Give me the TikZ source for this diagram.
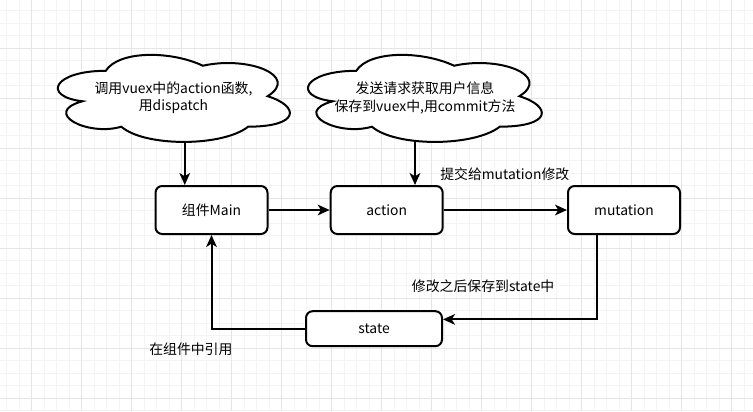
\documentclass[tikz,border=0pt]{standalone}
\usepackage{fontspec}
\setmainfont{Noto Sans CJK SC}
\usetikzlibrary{arrows.meta, positioning}
\tikzset{
    box/.style={draw=black, line width=1.5pt, rounded corners=5pt, fill=white,
        minimum width=84pt, minimum height=36pt, inner sep=0pt},
    flow/.style={line width=1.5pt, -{Stealth[length=9pt, width=8pt, inset=2.5pt]}},
    note/.style={anchor=west, inner sep=0pt},
    cloudline/.style={draw=black, line width=1.5pt, fill=white},
    gridminor/.style={draw={rgb,255:red,244;green,244;blue,244}, line width=0.6pt},
    gridmajor/.style={draw={rgb,255:red,229;green,229;blue,229}, line width=0.75pt}
}

\begin{document}
\begin{tikzpicture}[x=0.75pt, y=-0.75pt, font=\fontsize{10.4}{13}\selectfont]
                        \fill[white] (0, 0) rectangle (753, 411);
                        \useasboundingbox (0, 0) rectangle (753, 411);

                        % grid
                        \foreach \x in {6.7, 19.2, ..., 753} \draw[gridminor] (\x, 0) -- (\x, 411);
                        \foreach \y in {10.8, 23.3, ..., 411} \draw[gridminor] (0, \y) -- (753, \y);
                        \foreach \x in {31.7, 81.7, ..., 753} \draw[gridmajor] (\x, 0) -- (\x, 411);
                        \foreach \y in {48.3, 98.3, ..., 411} \draw[gridmajor] (0, \y) -- (753, \y);

                        % clouds
                        \begin{scope}[shift={(41, 45.4)}, xscale=259, yscale=101.6]
                            \path[cloudline] (0.25, 0.25)
                            .. controls (0.05, 0.25) and (0, 0.5) .. (0.16, 0.55)
                            .. controls (0, 0.66) and (0.18, 0.9) .. (0.31, 0.8)
                            .. controls (0.4, 1) and (0.7, 1) .. (0.8, 0.8)
                            .. controls (1, 0.8) and (1, 0.6) .. (0.875, 0.5)
                            .. controls (1, 0.3) and (0.8, 0.1) .. (0.625, 0.2)
                            .. controls (0.5, 0.05) and (0.3, 0.05) .. (0.25, 0.25) -- cycle;
                            \coordinate (askfoot) at (0.555, 0.95);
                        \end{scope}
                        \begin{scope}[shift={(291, 45.4)}, xscale=261, yscale=101.6]
                            \path[cloudline] (0.25, 0.25)
                            .. controls (0.05, 0.25) and (0, 0.5) .. (0.16, 0.55)
                            .. controls (0, 0.66) and (0.18, 0.9) .. (0.31, 0.8)
                            .. controls (0.4, 1) and (0.7, 1) .. (0.8, 0.8)
                            .. controls (1, 0.8) and (1, 0.6) .. (0.875, 0.5)
                            .. controls (1, 0.3) and (0.8, 0.1) .. (0.625, 0.2)
                            .. controls (0.5, 0.05) and (0.3, 0.05) .. (0.25, 0.25) -- cycle;
                            \coordinate (fetchfoot) at (0.475, 0.95);
                        \end{scope}

                        \node[align=center] (ask) at (173.5, 98) {调用vuex中的action函数,\\用dispatch};
                        \node[align=center] (fetch) at (425, 98) {发送请求获取用户信息\\保存到vuex中,用commit方法};

                        % boxes
                        \node[box] (main) at (211.5, 210) {组件Main};
                        \node[box] (action) at (386.7, 210) {action};
                        \node[box] (mutation) at (624, 210) {mutation};
                        \node[box, minimum width=102pt, minimum height=26.25pt] (state) at (374, 328.7) {state};

                        \draw[flow] (askfoot) -- (askfoot |- main.north);
                        \draw[flow] (fetchfoot) -- (fetchfoot |- action.north);
                        \draw[flow] (main) -- (action);
                        \draw[flow] (action) -- (mutation);
                        \draw[flow] ([xshift=-20pt]mutation.south) |- ([yshift=7pt]state.east);
                        \draw[flow] (state.west) -| (main.south);

                        \node[note] (commitnote) at (440, 174) {提交给mutation修改};
                        \node[note] (savenote) at (411.7, 286) {修改之后保存到state中};
                        \node[note] (usenote) at (149, 349.3) {在组件中引用};
\end{tikzpicture}
\end{document}
